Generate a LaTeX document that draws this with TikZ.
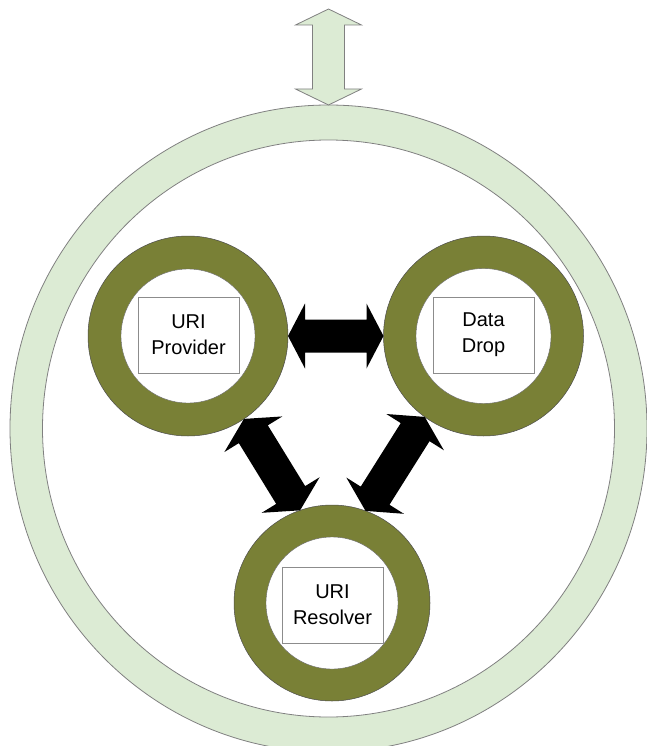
\documentclass[tikz,border=0pt]{standalone}
\usepackage{fontspec}
\setmainfont{Liberation Sans}
\usetikzlibrary{calc,shapes.geometric}

\definecolor{palegreen}{RGB}{220,235,212}
\definecolor{ringolive}{RGB}{121,128,54}
\definecolor{edgegrey}{RGB}{128,128,128}

\tikzset{
  ring/.style={circle, draw=black!70, line width=0.5pt, fill=ringolive,
               inner sep=0pt, outer sep=0pt},
  hole/.style={circle, draw=black!60, line width=0.4pt, fill=white,
               inner sep=0pt, outer sep=0pt},
  labelbox/.style={draw=black!45, fill=white, line width=0.6pt,
               minimum width=101pt, minimum height=76pt, align=center,
               inner sep=0pt, font=\fontsize{20}{26}\selectfont},
  frame/.style={ellipse, draw=edgegrey, line width=0.8pt,
               inner sep=0pt, outer sep=0pt},
  linkarrow/.style={fill=black},
  portarrow/.style={fill=palegreen, draw=edgegrey, line width=0.8pt,
               line join=miter},
}

% Double-headed block arrow between two points:
% #1 style, #2 from, #3 to, #4 head length, #5 head half width, #6 shaft half width
\newcommand{\blockarrow}[6]{%
  \coordinate (ha) at ($(#2)!#4!(#3)$);
  \coordinate (hb) at ($(#3)!#4!(#2)$);
  \path[#1] (#2)
    -- ($(ha)!#5!90:(#3)$) -- ($(ha)!#6!90:(#3)$)
    -- ($(hb)!#6!-90:(#2)$) -- ($(hb)!#5!-90:(#2)$)
    -- (#3)
    -- ($(hb)!#5!90:(#2)$) -- ($(hb)!#6!90:(#2)$)
    -- ($(ha)!#6!-90:(#3)$) -- ($(ha)!#5!-90:(#3)$)
    -- cycle;
}

\begin{document}
\begin{tikzpicture}[x=1pt,y=-1pt]
  \clip (0,0) rectangle (647,746);
  \fill[white] (0,0) rectangle (647,746);

  % enclosing system ring
  \node[frame, fill=palegreen, minimum width=637pt, minimum height=647pt]
    (sys) at (328.5,428.5) {};
  \node[frame, fill=white, minimum width=572pt, minimum height=577pt]
    (sysin) at (sys.center) {};

  % external interface arrow
  \coordinate (ext) at ($(sys.north)+(0,-96)$);
  \blockarrow{portarrow}{ext}{sys.north}{16pt}{33pt}{16pt}

  % components
  \node[ring, minimum size=200pt] (prov) at (188,336) {};
  \node[hole, minimum size=134pt] (provhole) at (prov) {};

  \node[ring, minimum size=200pt] (drop) at (483.5,336) {};
  \node[hole, minimum size=135pt] (drophole) at (drop) {};

  \node[ring, minimum size=196pt] (res) at (332,603) {};
  \node[hole, minimum size=132pt] (reshole) at (res) {};

  % links between components
  \blockarrow{linkarrow}{prov.east}{drop.west}{17pt}{32.5pt}{16.5pt}
  \blockarrow{linkarrow}{prov.-56}{res.109}{18pt}{34pt}{17pt}
  \blockarrow{linkarrow}{drop.-126}{res.70}{18pt}{34pt}{17pt}

  % component labels
  \node[labelbox] (provtxt) at (188.5,335) {URI\\Provider};
  \node[labelbox] (droptxt) at (483.5,335) {Data\\Drop};
  \node[labelbox] (restxt) at (332.5,605) {URI\\Resolver};
\end{tikzpicture}
\end{document}
